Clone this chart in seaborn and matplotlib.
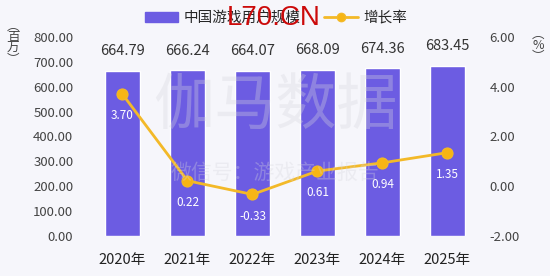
import matplotlib
matplotlib.use("Agg")
import matplotlib.pyplot as plt
import seaborn as sns
import pandas as pd
from matplotlib.patches import Patch
from matplotlib.lines import Line2D

years = ["2020年", "2021年", "2022年", "2023年", "2024年", "2025年"]
users = [664.79, 666.24, 664.07, 668.09, 674.36, 683.45]
growth = [3.70, 0.22, -0.33, 0.61, 0.94, 1.35]
left_ticks = [0, 100, 200, 300, 400, 500, 600, 700, 800]
right_ticks = [-2, 0, 2, 4, 6]

sns.set_theme(style="white")
plt.rcParams["font.family"] = ["Noto Sans CJK SC", "DejaVu Sans"]

BG = "#f6f6fb"
BAR = "#6c5ce2"
LINE = "#f3b928"
TXT = "#444444"

df = pd.DataFrame({"year": years, "users": users, "growth": growth})

fig = plt.figure(figsize=(5.5, 2.76), dpi=100, facecolor=BG)
ax = fig.add_axes([0.1636, 0.145, 0.709, 0.721])
ax.set_facecolor(BG)

sns.barplot(data=df, x="year", y="users", color=BAR, saturation=1, width=0.53, ax=ax, zorder=2)
ax.set_ylim(0, 800)
ax.set_xlim(-0.5, 5.5)
ax.set_yticks(left_ticks)
ax.set_yticklabels([f"{v:.2f}" for v in left_ticks], color=TXT, fontsize=9.5)
ax.tick_params(axis="x", colors="#222222", labelsize=10.5, length=0, pad=12)
ax.tick_params(axis="y", length=0, pad=12)
ax.set_xlabel("")
ax.set_ylabel("")
for s in ax.spines.values():
    s.set_visible(False)

for i, v in enumerate(users):
    ax.annotate(f"{v:.2f}", (i, v), xytext=(0, 9), textcoords="offset points",
                ha="center", va="bottom", fontsize=10.5, color="#333333")

ax2 = ax.twinx()
sns.lineplot(x=list(range(len(years))), y=growth, ax=ax2, color=LINE, linewidth=2,
             marker="o", markersize=8, markeredgecolor=LINE, markerfacecolor="#f7b514", zorder=4)
ax2.set_ylim(-2, 6)
ax2.set_yticks(right_ticks)
ax2.set_yticklabels([f"{v:.2f}" for v in right_ticks], color=TXT, fontsize=9.5)
ax2.tick_params(axis="y", length=0, pad=7)
for s in ax2.spines.values():
    s.set_visible(False)
ax2.set_ylabel("")

for i, v in enumerate(growth):
    ax2.annotate(f"{v:.2f}", (i, v), xytext=(0, -11), textcoords="offset points",
                 ha="center", va="top", fontsize=8.5, color="white", zorder=5)

# watermark
fig.text(0.50, 0.615, "伽马数据", ha="center", va="center", fontsize=44,
         color="#d6d6dc", alpha=0.32, zorder=0)
fig.text(0.50, 0.375, "微信号：游戏产业报告", ha="center", va="center", fontsize=15,
         color="#d6d6dc", alpha=0.32, zorder=0)

# axis unit labels
fig.text(0.024, 0.845, "︵\n百\n万\n︶", ha="center", va="center", fontsize=9,
         color=TXT, linespacing=0.8)
fig.text(0.978, 0.835, "︵\n%\n︶", ha="center", va="center", fontsize=9,
         color=TXT, linespacing=0.8)

handles = [Patch(facecolor=BAR, edgecolor=BAR, label="中国游戏用户规模"),
           Line2D([0], [0], color=LINE, lw=2, marker="o", markersize=6,
                  markerfacecolor="#f7b514", markeredgecolor=LINE, label="增长率")]
fig.legend(handles=handles, loc="center", bbox_to_anchor=(0.502, 0.935), ncol=2,
           frameon=False, fontsize=10.5, handlelength=2.3, handleheight=0.7,
           columnspacing=1.6, handletextpad=0.4)

fig.text(0.497, 0.935, "L70.CN", ha="center", va="center", fontsize=20,
         color="#cc0a0a", family=["Liberation Sans", "DejaVu Sans"], zorder=10)

fig.savefig("out.png", dpi=100, facecolor=BG)
